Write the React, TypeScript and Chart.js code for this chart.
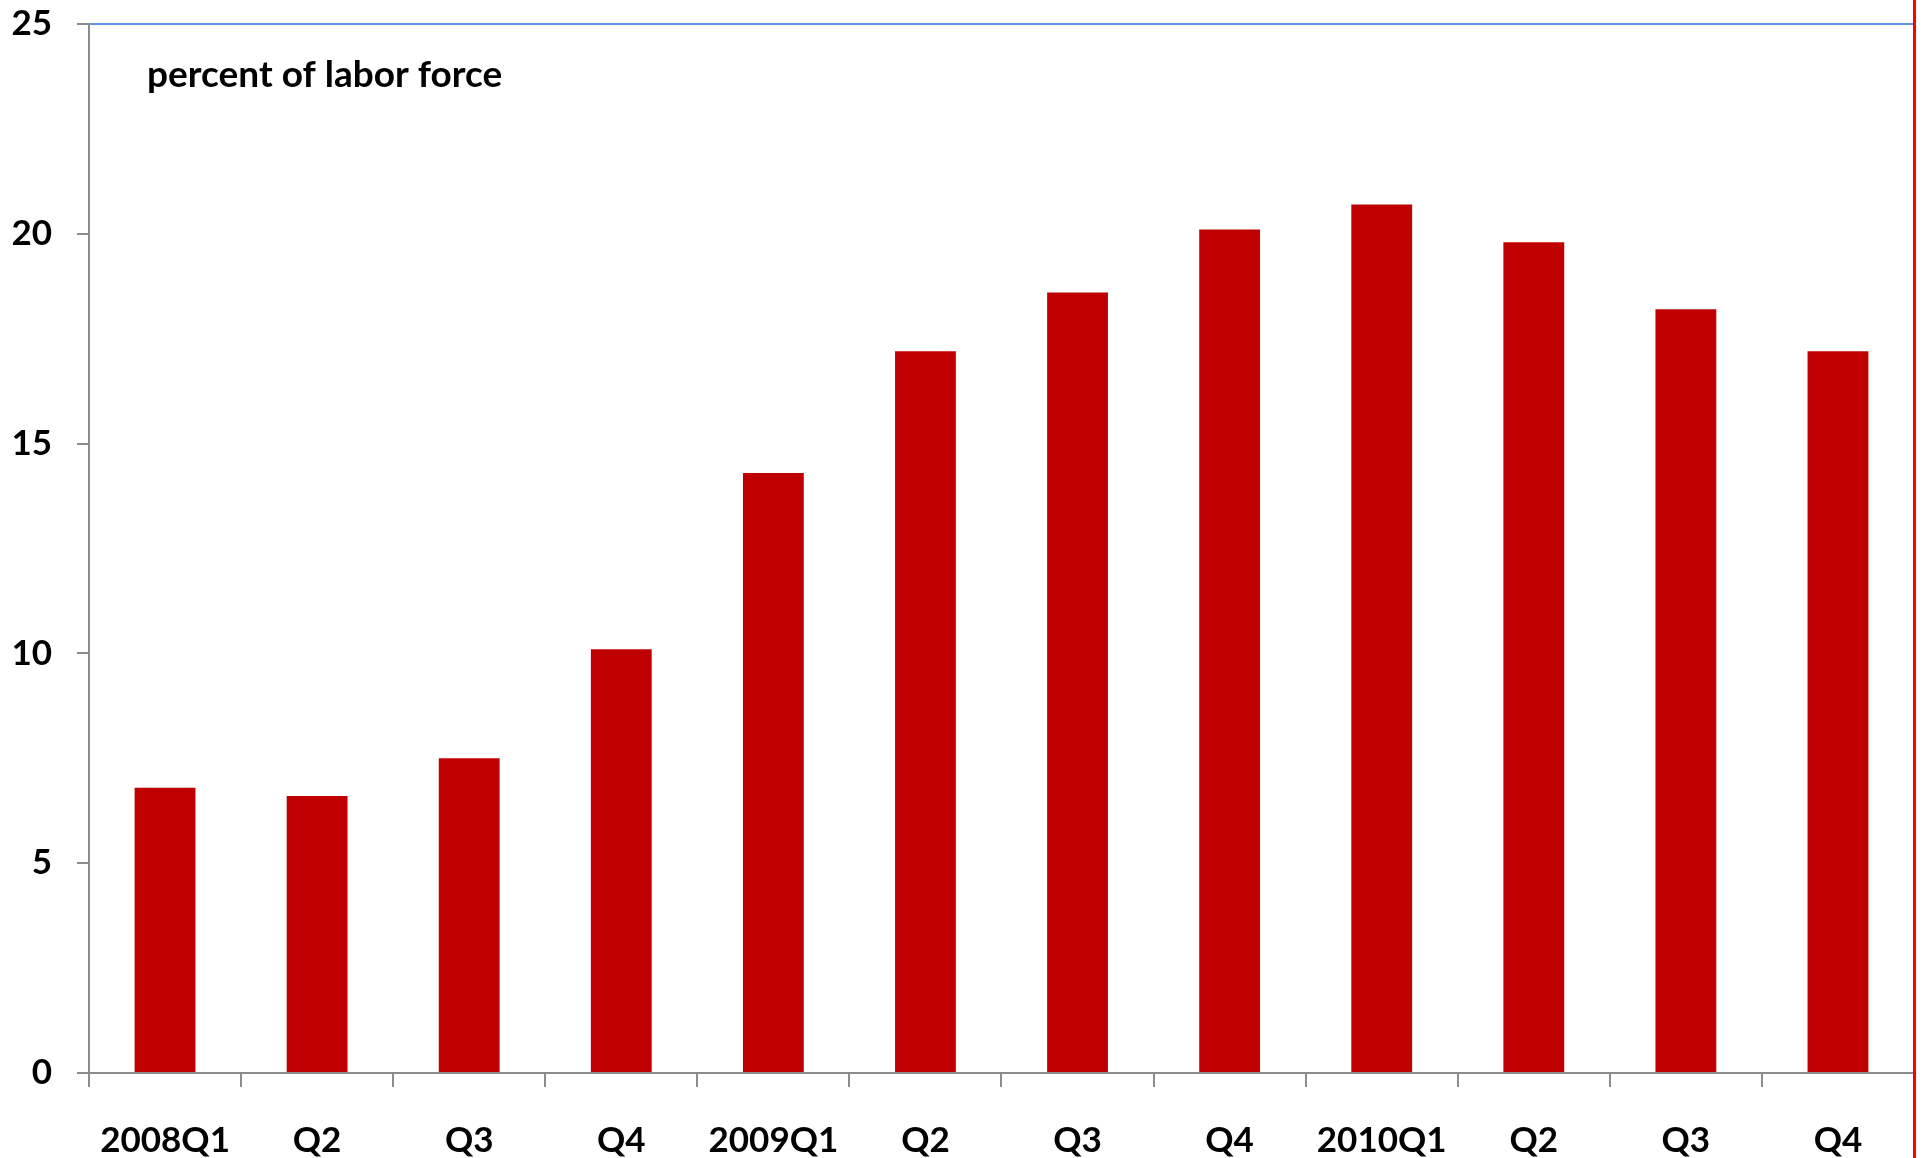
import React, { useEffect, useRef } from "react";
import { Chart, registerables } from "chart.js";

Chart.register(...registerables);

const categories = ["2008Q1", "Q2", "Q3", "Q4", "2009Q1", "Q2", "Q3", "Q4", "2010Q1", "Q2", "Q3", "Q4"];
const values = [6.8, 6.6, 7.5, 10.1, 14.3, 17.2, 18.6, 20.1, 20.7, 19.8, 18.2, 17.2];
const yTickValues = [0, 5, 10, 15, 20, 25];
const unitLabel = "percent of labor force";

const FONT = "Lato";

export default function App() {
  const ref = useRef<HTMLCanvasElement>(null);

  useEffect(() => {
    document.body.style.margin = "0";
    const canvas = ref.current;
    if (!canvas) return;

    const overlay = {
      id: "overlay",
      afterDraw(chart: any) {
        const { ctx, chartArea } = chart;
        ctx.save();
        ctx.font = `bold 37px ${FONT}`;
        ctx.fillStyle = "#000000";
        ctx.textAlign = "left";
        ctx.textBaseline = "alphabetic";
        ctx.fillText(unitLabel, chartArea.left + 58, 87);
        ctx.strokeStyle = "#ff0000";
        ctx.lineWidth = 3;
        ctx.beginPath();
        ctx.moveTo(1914.5, 0);
        ctx.lineTo(1914.5, chart.height);
        ctx.stroke();
        ctx.restore();
      },
    };

    const chart = new Chart(canvas, {
      type: "bar",
      data: {
        labels: categories,
        datasets: [
          {
            data: values,
            backgroundColor: "#c00000",
            borderWidth: 0,
            categoryPercentage: 1,
            barPercentage: 0.4,
          },
        ],
      },
      options: {
        responsive: false,
        animation: false,
        devicePixelRatio: 1,
        layout: { padding: { top: 24, right: 7, left: 0, bottom: 0 } },
        plugins: {
          legend: { display: false },
          tooltip: { enabled: false },
          title: { display: false },
        },
        scales: {
          x: {
            afterFit(scale: any) {
              scale.height = 85;
              scale.paddingLeft = 0;
              scale.paddingRight = 0;
            },
            grid: {
              offset: true,
              color: "rgba(0,0,0,0)",
              tickColor: "#8c8c8c",
              tickLength: 14,
              lineWidth: 2,
              drawOnChartArea: false,
            },
            border: { color: "#8c8c8c", width: 2 },
            ticks: {
              color: "#000000",
              font: { family: FONT, size: 35, weight: "bold" },
              padding: 33,
              maxRotation: 0,
              autoSkip: false,
            },
          },
          y: {
            min: 0,
            max: 25,
            afterFit(scale: any) {
              scale.width = 89;
              scale.paddingTop = 0;
              scale.paddingBottom = 0;
            },
            afterBuildTicks(scale: any) {
              scale.ticks = yTickValues.map((v) => ({ value: v }));
            },
            grid: {
              color: (ctx: any) => (ctx.tick && ctx.tick.value === 25 ? "#5f96dd" : "rgba(0,0,0,0)"),
              tickColor: "#8c8c8c",
              tickLength: 12,
              lineWidth: 2,
            },
            border: { color: "#8c8c8c", width: 2 },
            ticks: {
              color: "#000000",
              font: { family: FONT, size: 35, weight: "bold" },
              padding: 25,
            },
          },
        },
      },
      plugins: [overlay],
    } as any);

    return () => chart.destroy();
  }, []);

  return (
    <div style={{ width: 1921, height: 1158, overflow: "hidden", background: "#ffffff" }}>
      <canvas ref={ref} width={1921} height={1158} style={{ display: "block" }} />
    </div>
  );
}
